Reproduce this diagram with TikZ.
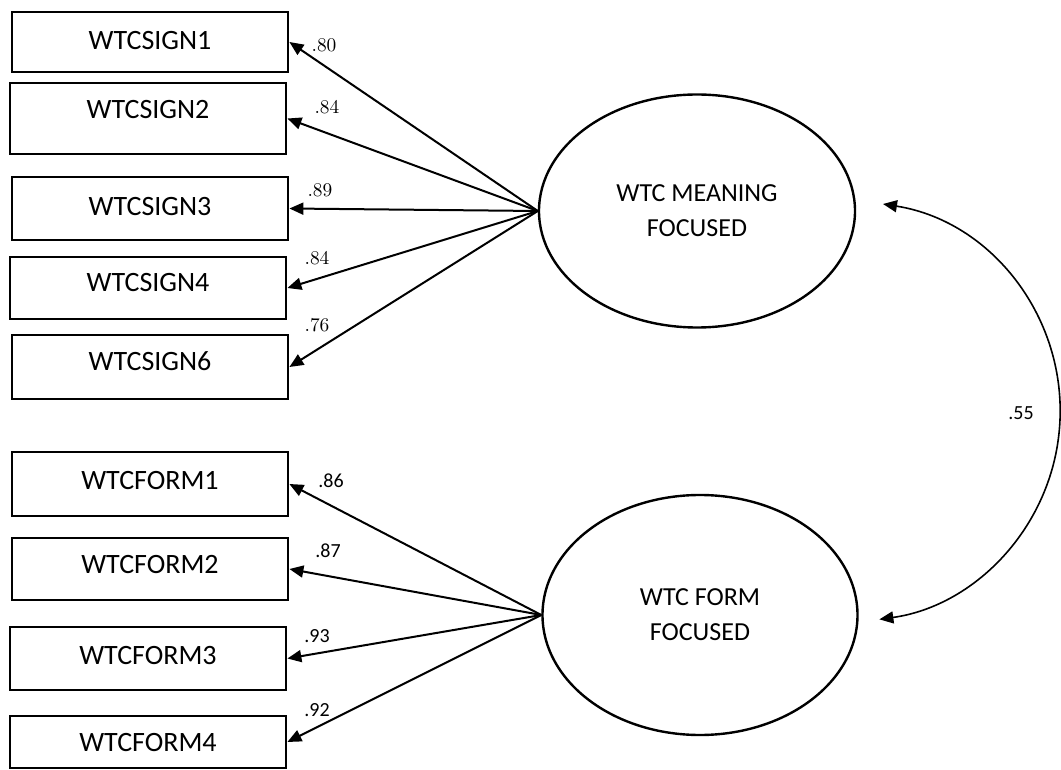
\documentclass[tikz,border=0pt]{standalone}
\usepackage{fontspec}
\newfontfamily\carlito{Carlito}
\usetikzlibrary{arrows.meta,shapes.geometric}

\begin{document}
\begin{tikzpicture}[
  x=0.5pt, y=-0.5pt,
  myrect/.style={
    draw,
    line width=1.4pt,
    rectangle,
    minimum width=138pt,
    inner sep=0pt,
    text height=9pt,
    text depth=0pt,
    font=\carlito\fontsize{14}{16}\selectfont
    },
  textup/.style={text depth=#1},
  myellipse/.style={
    draw,
    ellipse,
    line width=1.2pt,
    inner sep=0pt,
    align=center,
    font=\carlito\fontsize{13}{17.5}\selectfont
    },
  loading/.style={-{Triangle[length=7pt,width=6pt]}, line width=1pt},
  serifval/.style={font=\fontsize{9.7}{11}\selectfont},
  sansval/.style={font=\carlito\fontsize{10}{12}\selectfont}
]
\useasboundingbox (0,0) rectangle (1061,770);

\node [myrect, minimum height=30pt, textup=1pt] (s1) at (150,42) {WTCSIGN1};
\node [myrect, minimum height=35.5pt, textup=8.5pt] (s2) at (148,118.5) {WTCSIGN2};
\node [myrect, minimum height=31.5pt, textup=2pt] (s3) at (150,208.5) {WTCSIGN3};
\node [myrect, minimum height=31pt, textup=5pt] (s4) at (148,288) {WTCSIGN4};
\node [myrect, minimum height=32pt, textup=5pt] (s6) at (150,367) {WTCSIGN6};

\node [myrect, minimum height=32pt, textup=4pt] (f1) at (150,484) {WTCFORM1};
\node [myrect, minimum height=31pt, textup=4.5pt] (f2) at (150,569) {WTCFORM2};
\node [myrect, minimum height=31.5pt, textup=3pt] (f3) at (148,658.5) {WTCFORM3};
\node [myrect, minimum height=26pt] (f4) at (148,742) {WTCFORM4};

\node [myellipse, minimum width=158pt, minimum height=116.5pt] (m) at (697,211) {WTC MEANING\\FOCUSED};
\node [myellipse, minimum width=157.5pt, minimum height=120pt] (f) at (700,615) {WTC FORM\\FOCUSED};

\foreach \t in {s1,s2,s3,s4,s6}
  \draw [loading] (m.west) -- (\t.east);
\foreach \t in {f1,f2,f3,f4}
  \draw [loading] (f.west) -- (\t.east);

\node [serifval] (l1) at (324,45) {.80};
\node [serifval] (l2) at (327,107) {.84};
\node [serifval] (l3) at (320,190) {.89};
\node [serifval] (l4) at (317,258) {.84};
\node [serifval] (l6) at (317,325) {.76};
\node [sansval] (k1) at (331,481) {.86};
\node [sansval] (k2) at (328,551) {.87};
\node [sansval] (k3) at (317,636) {.93};
\node [sansval] (k4) at (317,710) {.92};

\coordinate (mend) at (883,204);
\draw [{Triangle[length=7pt,width=6pt]}-{Triangle[length=7pt,width=6pt]}, line width=0.8pt]
  (mend) arc [start angle=-81, end angle=82, radius=210];
\node [sansval] (r) at (1021,413) {.55};

\end{tikzpicture}
\end{document}
